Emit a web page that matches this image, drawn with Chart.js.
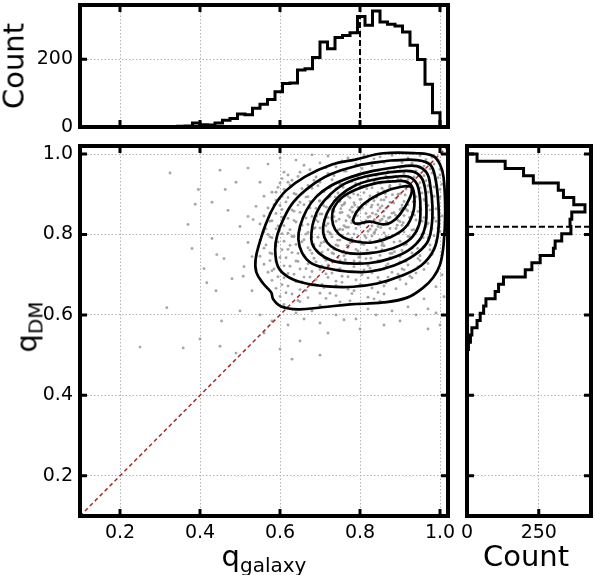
<!DOCTYPE html>
<html>
<head>
<meta charset="utf-8">
<script src="https://cdn.jsdelivr.net/npm/chart.js@4.4.1/dist/chart.umd.min.js"></script>
<style>
  body { margin: 0; background: #fff; }
  #wrap { position: relative; width: 595px; height: 575px; font-family: "DejaVu Sans", sans-serif; color: #000; }
  canvas { position: absolute; }
  .lbl { position: absolute; font-size: 29px; line-height: 1; white-space: nowrap; transform: translate(-50%, -50%); }
  .rot { transform: translate(-50%, -50%) rotate(-90deg); }
  .lbl .sb { font-size: 20px; position: relative; top: 6px; }
</style>
</head>
<body>
<div id="wrap">
  <canvas id="topHist" width="460" height="140" style="left:0;top:0"></canvas>
  <canvas id="mainPlot" width="460" height="435" style="left:0;top:140px"></canvas>
  <canvas id="rightHist" width="140" height="435" style="left:455px;top:140px"></canvas>
  <div class="lbl rot" style="left:14px;top:66px">Count</div>
  <div class="lbl rot" style="left:27px;top:327px">q<span class="sb">DM</span></div>
  <div class="lbl" style="left:264px;top:556px">q<span class="sb">galaxy</span></div>
  <div class="lbl" style="left:526px;top:556px">Count</div>
</div>
<script>
// ---- data ----
const qTicks = [0.2, 0.4, 0.6, 0.8, 1.0];
const topCountTicks = [0, 200];
const rightCountTicks = [0, 250];

// top histogram of q_galaxy: 48 bins of 0.01875 from 0.1
const topBinStart = 0.1, topBinWidth = 0.01875;
const topCounts = [0,0,0,0,0,0,0,0,0,0,0,
  1,1,2,3,12,7,6,12,20,25,
  38,36,55,67,81,104,128,130,168,172,
  205,251,231,264,270,278,326,300,342,310,
  303,298,280,241,199,126,42];
const qGalaxyMedian = 0.8, qGalaxyMedianHeight = 326;

// right histogram of q_DM: 50 bins of 0.018 from 0.1
const rightBinStart = 0.1, rightBinWidth = 0.018;
const rightCounts = [0,0,0,0,0,0,0,0,0,0,0,0,0,0,0,0,0,0,0,0,0,0,
  1,5,12,17,35,46,58,66,98,110,
  127,203,226,255,301,307,330,362,359,365,
  411,372,336,318,231,197,133,35];
const qDMMedian = 0.819;

// scatter of (q_galaxy, q_DM): sparse outskirts and the main cloud
const galaxyDots = [
  [0.325,0.953],[0.396,0.912],[0.388,0.875],[0.463,0.912],[0.417,0.68],[0.442,0.75],[0.317,0.618],[0.358,0.518],
  [0.454,0.585],[0.45,0.522],[0.508,0.696],[0.533,0.837],[0.49,0.93],[0.52,0.965],[0.57,0.975],[0.6,0.99],
  [0.55,0.93],[0.61,0.955],[0.64,0.985],[0.68,0.998],[0.5,0.61],[0.48,0.69],[0.46,0.74],[0.52,0.78],
  [0.5,0.82],[0.54,0.87],[0.56,0.895],[0.43,0.79],[0.51,0.72],[0.53,0.66],[0.55,0.6],[0.58,0.585],
  [0.62,0.575],[0.66,0.59],[0.7,0.58],[0.74,0.6],[0.79,0.59],[0.84,0.6],[0.88,0.61],[0.92,0.62],
  [0.96,0.64],[0.99,0.67],[1.005,0.7],[0.72,0.555],[0.65,0.535],[0.6,0.515],[0.8,0.565],[0.86,0.575],
  [0.9,0.585],[0.94,0.6],[0.97,0.615],[0.4,0.54],[0.58,0.71],[0.53,0.745],[0.57,0.8],[0.59,0.905],
  [0.62,0.93],[0.52,0.845],[0.47,0.86],[0.44,0.66],[0.41,0.715],[0.38,0.765],[0.37,0.825],[0.43,0.88],
  [0.45,0.96],[0.64,0.605],[0.68,0.61],[0.76,0.588],[0.82,0.615],[0.99,0.605],[1.01,0.645],[1.0,0.575],
  [0.97,0.565],[0.56,0.555],[0.49,0.505],[0.63,0.49],[0.7,0.5],[0.25,0.52],
  [0.72,0.995],[0.77,0.99],[0.81,0.998],[0.85,0.993],[0.88,0.997],[0.92,0.99],[0.95,0.996],[0.98,0.992],[0.995,0.985],
  [0.66,0.972],[0.7,0.978],[0.74,0.968],[0.79,0.975],[0.83,0.971],[0.86,0.979],[0.9,0.966],[0.93,0.977],[0.96,0.97],[0.985,0.975],[1.0,0.962],
  [0.62,0.948],[0.65,0.955],[0.69,0.943],[0.72,0.952],[0.76,0.958],[0.78,0.945],[0.81,0.953],[0.84,0.947],[0.87,0.956],[0.89,0.944],[0.91,0.952],[0.94,0.958],[0.96,0.946],[0.98,0.953],[1.0,0.948],
  [0.6,0.928],[0.63,0.935],[0.67,0.922],[0.7,0.93],[0.73,0.936],[0.75,0.925],[0.78,0.932],[0.8,0.921],[0.82,0.938],[0.85,0.927],[0.87,0.934],[0.9,0.924],[0.92,0.937],[0.95,0.929],[0.97,0.921],[0.99,0.934],[1.005,0.925],
  [0.58,0.905],[0.61,0.912],[0.64,0.9],[0.68,0.915],[0.71,0.906],[0.74,0.914],[0.76,0.902],[0.79,0.911],[0.81,0.904],[0.83,0.916],[0.86,0.908],[0.88,0.913],[0.9,0.901],[0.93,0.91],[0.95,0.916],[0.97,0.905],[1.0,0.912],
  [0.59,0.885],[0.62,0.892],[0.65,0.88],[0.67,0.894],[0.7,0.884],[0.72,0.891],[0.75,0.882],[0.77,0.895],[0.8,0.887],[0.82,0.881],[0.84,0.893],[0.86,0.886],[0.89,0.89],[0.91,0.882],[0.94,0.894],[0.96,0.887],[0.98,0.881],[1.0,0.893],
  [0.57,0.866],[0.6,0.872],[0.63,0.861],[0.66,0.874],[0.69,0.865],[0.71,0.871],[0.73,0.862],[0.76,0.875],[0.78,0.868],[0.8,0.861],[0.83,0.873],[0.85,0.866],[0.87,0.87],[0.9,0.862],[0.92,0.874],[0.95,0.867],[0.97,0.872],[0.99,0.864],
  [0.56,0.846],[0.59,0.852],[0.62,0.84],[0.65,0.855],[0.68,0.845],[0.7,0.851],[0.72,0.842],[0.75,0.854],[0.77,0.847],[0.79,0.856],[0.82,0.843],[0.84,0.85],[0.86,0.845],[0.88,0.853],[0.91,0.847],[0.93,0.855],[0.96,0.842],[0.98,0.851],[1.005,0.846],
  [0.55,0.826],[0.58,0.834],[0.61,0.822],[0.64,0.831],[0.67,0.825],[0.69,0.836],[0.72,0.827],[0.74,0.833],[0.76,0.822],[0.78,0.835],[0.81,0.828],[0.83,0.821],[0.85,0.834],[0.87,0.826],[0.9,0.832],[0.92,0.823],[0.94,0.836],[0.97,0.828],[0.99,0.833],
  [0.56,0.806],[0.59,0.814],[0.62,0.803],[0.65,0.812],[0.67,0.805],[0.7,0.816],[0.72,0.807],[0.75,0.813],[0.77,0.802],[0.79,0.815],[0.82,0.808],[0.84,0.812],[0.86,0.804],[0.89,0.815],[0.91,0.806],[0.93,0.811],[0.96,0.803],[0.98,0.814],[1.0,0.807],
  [0.55,0.786],[0.58,0.792],[0.61,0.783],[0.63,0.795],[0.66,0.787],[0.68,0.793],[0.71,0.782],[0.73,0.794],[0.75,0.786],[0.78,0.791],[0.8,0.784],[0.83,0.796],[0.85,0.788],[0.87,0.793],[0.9,0.783],[0.92,0.795],[0.95,0.787],[0.97,0.792],[0.99,0.784],
  [0.56,0.766],[0.59,0.772],[0.62,0.763],[0.64,0.775],[0.67,0.767],[0.7,0.772],[0.72,0.762],[0.74,0.774],[0.77,0.768],[0.79,0.763],[0.81,0.775],[0.84,0.767],[0.86,0.772],[0.88,0.763],[0.91,0.774],[0.93,0.766],[0.96,0.771],[0.985,0.765],
  [0.55,0.746],[0.58,0.752],[0.6,0.743],[0.63,0.755],[0.66,0.748],[0.68,0.753],[0.71,0.742],[0.73,0.754],[0.76,0.747],[0.78,0.752],[0.8,0.744],[0.83,0.755],[0.85,0.748],[0.88,0.753],[0.9,0.745],[0.93,0.754],[0.95,0.747],[0.98,0.751],
  [0.56,0.726],[0.59,0.733],[0.61,0.722],[0.64,0.734],[0.67,0.727],[0.69,0.732],[0.72,0.724],[0.75,0.735],[0.77,0.728],[0.8,0.732],[0.82,0.723],[0.85,0.734],[0.87,0.727],[0.9,0.731],[0.92,0.724],[0.95,0.735],[0.97,0.728],
  [0.57,0.706],[0.6,0.712],[0.62,0.703],[0.65,0.714],[0.68,0.708],[0.7,0.713],[0.73,0.704],[0.75,0.715],[0.78,0.707],[0.81,0.712],[0.83,0.705],[0.86,0.714],[0.88,0.706],[0.91,0.712],[0.94,0.704],[0.96,0.713],
  [0.58,0.686],[0.61,0.692],[0.64,0.683],[0.66,0.694],[0.69,0.688],[0.72,0.693],[0.74,0.684],[0.77,0.695],[0.79,0.687],[0.82,0.692],[0.85,0.684],[0.87,0.694],[0.9,0.688],[0.93,0.692],
  [0.59,0.666],[0.62,0.672],[0.65,0.663],[0.68,0.674],[0.71,0.668],[0.74,0.673],[0.77,0.664],[0.8,0.675],[0.83,0.667],[0.86,0.672],[0.89,0.665],
  [0.6,0.646],[0.63,0.652],[0.67,0.643],[0.7,0.654],[0.74,0.648],[0.78,0.653],[0.82,0.644],[0.86,0.652],
  [0.61,0.626],[0.65,0.633],[0.7,0.624],[0.75,0.632],[0.8,0.627],[0.85,0.634],
  [0.735,0.857],[0.748,0.838],[0.762,0.879],[0.771,0.818],[0.784,0.901],[0.793,0.847],[0.806,0.866],[0.812,0.797],
  [0.824,0.889],[0.831,0.853],[0.845,0.874],[0.852,0.817],[0.863,0.902],[0.871,0.841],[0.884,0.878],[0.893,0.823],
  [0.905,0.866],[0.913,0.898],[0.924,0.842],[0.933,0.881],[0.941,0.808],[0.952,0.862],[0.744,0.786],[0.757,0.812],
  [0.768,0.773],[0.779,0.829],[0.797,0.781],[0.818,0.761],[0.837,0.806],[0.856,0.779],[0.875,0.792],[0.897,0.803],
  [0.916,0.776],[0.727,0.801],[0.709,0.826],[0.716,0.868],[0.738,0.893],[0.758,0.917],[0.789,0.927],[0.817,0.914],
  [0.846,0.929],[0.874,0.918],[0.902,0.936],[0.927,0.921],[0.948,0.903],[0.962,0.884],[0.968,0.826],[0.958,0.792],
  [0.944,0.765],[0.886,0.757],[0.827,0.741],[0.797,0.743],[0.763,0.737],[0.734,0.752],[0.703,0.779],[0.688,0.817],
  [0.692,0.846],[0.698,0.883],[0.781,0.856],[0.803,0.888],[0.828,0.868],[0.859,0.858],[0.881,0.899],[0.842,0.893],
  [0.866,0.832],[0.889,0.848],[0.908,0.829],[0.815,0.834],[0.836,0.837],[0.799,0.824],[0.774,0.843],[0.752,0.864],
  [0.787,0.873],[0.853,0.886],[0.919,0.859],[0.936,0.848]
];
// second pass over the dense part of the cloud
const galaxyDotsCore = [
  [0.755,0.983],[0.835,0.988],[0.905,0.979],[0.965,0.986],
  [0.675,0.961],[0.715,0.966],[0.765,0.957],[0.805,0.964],[0.845,0.959],[0.885,0.965],[0.925,0.958],[0.975,0.963],
  [0.605,0.939],[0.645,0.944],[0.685,0.935],[0.735,0.946],[0.765,0.938],[0.795,0.942],[0.835,0.933],[0.865,0.945],[0.895,0.937],[0.935,0.943],[0.965,0.934],[0.995,0.941],
  [0.595,0.917],[0.625,0.923],[0.655,0.914],[0.695,0.921],[0.725,0.916],[0.755,0.925],[0.775,0.913],[0.805,0.919],[0.835,0.926],[0.855,0.915],[0.875,0.922],[0.915,0.913],[0.945,0.924],[0.985,0.918],
  [0.605,0.895],[0.635,0.902],[0.665,0.893],[0.695,0.899],[0.725,0.894],[0.745,0.903],[0.775,0.891],[0.795,0.898],[0.825,0.896],[0.845,0.904],[0.865,0.893],[0.895,0.9],[0.925,0.892],[0.955,0.903],[0.985,0.895],
  [0.585,0.874],[0.615,0.881],[0.645,0.873],[0.675,0.882],[0.705,0.876],[0.735,0.883],[0.755,0.872],[0.785,0.879],[0.815,0.875],[0.835,0.884],[0.855,0.871],[0.875,0.88],[0.905,0.873],[0.935,0.882],[0.965,0.875],[0.995,0.878],
  [0.575,0.853],[0.605,0.862],[0.635,0.858],[0.675,0.866],[0.705,0.851],[0.725,0.864],[0.755,0.855],[0.775,0.861],[0.795,0.868],[0.815,0.852],[0.845,0.859],[0.865,0.865],[0.885,0.854],[0.915,0.863],[0.945,0.857],[0.975,0.861],
  [0.575,0.833],[0.605,0.843],[0.635,0.835],[0.665,0.841],[0.695,0.832],[0.735,0.844],[0.765,0.834],[0.785,0.842],[0.805,0.831],[0.825,0.845],[0.855,0.838],[0.875,0.843],[0.895,0.835],[0.925,0.842],[0.955,0.833],[0.985,0.841],
  [0.565,0.814],[0.595,0.821],[0.625,0.812],[0.655,0.823],[0.685,0.815],[0.715,0.822],[0.745,0.811],[0.765,0.818],[0.795,0.824],[0.825,0.813],[0.845,0.82],[0.875,0.815],[0.905,0.823],[0.935,0.812],[0.965,0.819],[0.995,0.815],
  [0.575,0.794],[0.605,0.802],[0.635,0.795],[0.665,0.801],[0.695,0.793],[0.725,0.804],[0.755,0.797],[0.785,0.801],[0.815,0.792],[0.835,0.803],[0.865,0.795],[0.895,0.802],[0.925,0.794],[0.955,0.801],[0.985,0.797],
  [0.565,0.774],[0.595,0.781],[0.625,0.773],[0.655,0.782],[0.685,0.775],[0.715,0.783],[0.745,0.772],[0.775,0.779],[0.805,0.776],[0.825,0.784],[0.855,0.773],[0.885,0.781],[0.915,0.776],[0.945,0.783],[0.975,0.774],
  [0.575,0.754],[0.605,0.762],[0.645,0.753],[0.675,0.761],[0.705,0.756],[0.735,0.763],[0.765,0.752],[0.795,0.759],[0.825,0.755],[0.855,0.762],[0.875,0.753],[0.905,0.76],[0.945,0.755],[0.975,0.762],
  [0.575,0.735],[0.615,0.742],[0.645,0.733],[0.685,0.741],[0.715,0.736],[0.745,0.743],[0.785,0.734],[0.815,0.74],[0.845,0.735],[0.875,0.742],[0.915,0.733],[0.945,0.74],
  [0.585,0.714],[0.625,0.721],[0.665,0.715],[0.705,0.722],[0.745,0.713],[0.785,0.72],[0.825,0.716],[0.865,0.722],[0.905,0.714],[0.945,0.719],
  [0.595,0.695],[0.635,0.701],[0.675,0.694],[0.715,0.702],[0.755,0.696],[0.805,0.7],[0.845,0.693],[0.895,0.701],[0.925,0.696],
  [0.605,0.675],[0.655,0.682],[0.705,0.676],[0.755,0.681],[0.805,0.674],[0.865,0.68],[0.915,0.677],
  [0.615,0.655],[0.665,0.661],[0.725,0.654],[0.785,0.66],[0.845,0.656],
  [0.645,0.636],[0.715,0.641],[0.775,0.635],[0.835,0.64]
];

// density contours, outermost first
const contour1 = [[0.788,0.986],[0.858,1.002],[0.943,1.002],[0.983,0.995],[1.0,0.974],[1.009,0.942],[1.013,0.857],
  [1.009,0.775],[1.0,0.725],[0.983,0.693],[0.958,0.668],[0.918,0.643],[0.858,0.631],[0.775,0.626],[0.705,0.619],
  [0.645,0.614],[0.603,0.621],[0.583,0.639],[0.578,0.656],[0.558,0.678],[0.541,0.706],[0.539,0.738],[0.55,0.783],
  [0.565,0.827],[0.585,0.87],[0.615,0.909],[0.663,0.944],[0.73,0.974]];
const contour2 = [[0.875,0.984],[0.942,0.985],[0.975,0.974],[0.988,0.942],[0.996,0.875],[0.996,0.812],[0.985,0.763],
  [0.953,0.723],[0.9,0.696],[0.843,0.678],[0.783,0.67],[0.718,0.671],[0.658,0.68],[0.618,0.696],[0.595,0.72],
  [0.588,0.763],[0.593,0.798],[0.608,0.837],[0.633,0.88],[0.675,0.919],[0.725,0.949],[0.793,0.971]];
const contour3 = [[0.9,0.969],[0.942,0.97],[0.967,0.953],[0.976,0.919],[0.981,0.87],[0.979,0.82],[0.968,0.78],
  [0.935,0.748],[0.885,0.723],[0.825,0.708],[0.768,0.708],[0.718,0.716],[0.678,0.729],[0.655,0.755],[0.646,0.788],
  [0.65,0.82],[0.666,0.86],[0.691,0.894],[0.725,0.92],[0.775,0.942],[0.833,0.958]];
const contour4 = [[0.875,0.955],[0.93,0.957],[0.953,0.942],[0.963,0.912],[0.966,0.87],[0.964,0.825],[0.95,0.788],
  [0.92,0.76],[0.875,0.74],[0.825,0.729],[0.775,0.728],[0.73,0.735],[0.698,0.753],[0.68,0.778],[0.679,0.807],
  [0.685,0.837],[0.7,0.87],[0.725,0.899],[0.763,0.927],[0.813,0.944]];
const contour5 = [[0.888,0.944],[0.92,0.944],[0.94,0.929],[0.949,0.899],[0.951,0.862],[0.948,0.825],[0.93,0.793],
  [0.9,0.773],[0.863,0.76],[0.82,0.753],[0.775,0.753],[0.74,0.763],[0.718,0.78],[0.708,0.805],[0.711,0.835],
  [0.725,0.867],[0.75,0.897],[0.788,0.922],[0.838,0.937]];
const contour6 = [[0.88,0.932],[0.913,0.932],[0.93,0.919],[0.936,0.892],[0.933,0.855],[0.913,0.817],[0.875,0.793],
  [0.83,0.78],[0.788,0.783],[0.758,0.793],[0.738,0.812],[0.73,0.84],[0.735,0.867],[0.755,0.892],[0.79,0.912],
  [0.838,0.927]];
const contour7 = [[0.875,0.912],[0.915,0.92],[0.929,0.916],[0.925,0.892],[0.9,0.85],[0.878,0.83],[0.858,0.825],
  [0.825,0.832],[0.79,0.827],[0.783,0.837],[0.8,0.867],[0.833,0.892]];
const contours = [contour1, contour2, contour3, contour4, contour5, contour6, contour7];

const qMin = 0.1, qMax = 1.02;
const topCountMax = 360, rightCountMax = 432;

// ---- helpers ----
const tickFont = { family: 'DejaVu Sans', size: 19 };
const toXY = arr => arr.map(p => ({ x: p[0], y: p[1] }));
const closeLoop = arr => toXY(arr.concat([arr[0]]));
const setTicks = vals => scale => { scale.ticks = vals.map(v => ({ value: v })); };

// frame around the plot area plus inward ticks on all four sides
const framePlugin = {
  id: 'frame',
  afterDraw(chart) {
    const { ctx, chartArea: a, scales } = chart;
    const len = 7;
    ctx.save();
    ctx.strokeStyle = '#000';
    ctx.lineWidth = 3;
    ctx.beginPath();
    scales.x.ticks.forEach(t => {
      const px = scales.x.getPixelForValue(t.value);
      ctx.moveTo(px, a.bottom); ctx.lineTo(px, a.bottom - len);
      ctx.moveTo(px, a.top); ctx.lineTo(px, a.top + len);
    });
    scales.y.ticks.forEach(t => {
      const py = scales.y.getPixelForValue(t.value);
      ctx.moveTo(a.left, py); ctx.lineTo(a.left + len, py);
      ctx.moveTo(a.right, py); ctx.lineTo(a.right - len, py);
    });
    ctx.stroke();
    ctx.lineWidth = 4;
    ctx.strokeRect(a.left, a.top, a.right - a.left, a.bottom - a.top);
    ctx.restore();
  }
};

function axis(min, max, ticks, opts) {
  return {
    type: 'linear',
    min: min,
    max: max,
    afterBuildTicks: setTicks(ticks),
    afterFit: scale => {
      if (opts.width != null) scale.width = opts.width;
      if (opts.height != null) scale.height = opts.height;
      // the panels are laid out by hand, so no extra room for label overhang
      scale.paddingTop = scale.paddingBottom = scale.paddingLeft = scale.paddingRight = 0;
    },
    ticks: {
      display: opts.labels,
      font: tickFont,
      color: '#000',
      padding: opts.padding || 6,
      autoSkip: false,
      maxRotation: 0,
      callback: opts.format
    },
    grid: { color: '#b3b3b3', lineWidth: 1, drawTicks: false },
    border: { display: false, dash: [1.5, 2] }
  };
}

function baseOptions(padding, scales) {
  return {
    responsive: false,
    animation: false,
    events: [],
    layout: { padding: padding },
    plugins: { legend: { display: false }, tooltip: { enabled: false } },
    scales: scales
  };
}

const fmtQ = v => v.toFixed(1);
const fmtInt = v => String(v);

// ---- top histogram ----
const topSteps = topCounts.map((c, i) => ({ x: topBinStart + i * topBinWidth, y: c }));
topSteps.push({ x: topBinStart + topCounts.length * topBinWidth, y: 0 });

new Chart(document.getElementById('topHist'), {
  type: 'scatter',
  data: {
    datasets: [
      { data: topSteps, showLine: true, stepped: 'before', borderColor: '#000', borderWidth: 3, pointRadius: 0 },
      { data: [{ x: qGalaxyMedian, y: 0 }, { x: qGalaxyMedian, y: qGalaxyMedianHeight }], showLine: true,
        borderColor: '#000', borderWidth: 2, borderDash: [6, 3], pointRadius: 0 }
    ]
  },
  options: baseOptions({ top: 5, right: 12, left: 0, bottom: 0 }, {
    x: axis(qMin, qMax, qTicks, { labels: false, height: 13 }),
    y: axis(0, topCountMax, topCountTicks, { labels: true, width: 80, padding: 7, format: fmtInt })
  }),
  plugins: [framePlugin]
});

// ---- main scatter + contours ----
const contourSets = contours.map(c => ({
  data: closeLoop(c), showLine: true, tension: 0.4, borderColor: '#000', borderWidth: 2.7,
  pointRadius: 0, order: 1
}));

new Chart(document.getElementById('mainPlot'), {
  type: 'scatter',
  data: {
    datasets: [
      { data: toXY(galaxyDots.concat(galaxyDotsCore)), pointRadius: 1.45,
        pointBackgroundColor: 'rgba(150,150,150,0.85)', pointBorderWidth: 0, order: 5 },
      { data: [{ x: qMin, y: qMin }, { x: qMax, y: qMax }], showLine: true, borderColor: '#a52a2a',
        borderWidth: 1.5, borderDash: [4, 3], pointRadius: 0, order: 2 }
    ].concat(contourSets)
  },
  options: baseOptions({ top: 6, right: 12, left: 0, bottom: 0 }, {
    x: axis(qMin, qMax, qTicks, { labels: true, height: 59, padding: 6, format: fmtQ }),
    y: axis(qMin, qMax, qTicks, { labels: true, width: 80, padding: 7, format: fmtQ })
  }),
  plugins: [framePlugin]
});

// ---- right histogram ----
const rightSteps = rightCounts.map((c, i) => ({ x: c, y: rightBinStart + i * rightBinWidth }));
rightSteps.push({ x: 0, y: rightBinStart + rightCounts.length * rightBinWidth });

new Chart(document.getElementById('rightHist'), {
  type: 'scatter',
  data: {
    datasets: [
      { data: rightSteps, showLine: true, stepped: 'after', borderColor: '#000', borderWidth: 3, pointRadius: 0 },
      { data: [{ x: 0, y: qDMMedian }, { x: rightCountMax, y: qDMMedian }], showLine: true,
        borderColor: '#000', borderWidth: 2, borderDash: [6, 3], pointRadius: 0 }
    ]
  },
  options: baseOptions({ top: 6, right: 4, left: 0, bottom: 0 }, {
    x: axis(0, rightCountMax, rightCountTicks, { labels: true, height: 59, padding: 6, format: fmtInt }),
    y: axis(qMin, qMax, qTicks, { labels: false, width: 12 })
  }),
  plugins: [framePlugin]
});
</script>
</body>
</html>
